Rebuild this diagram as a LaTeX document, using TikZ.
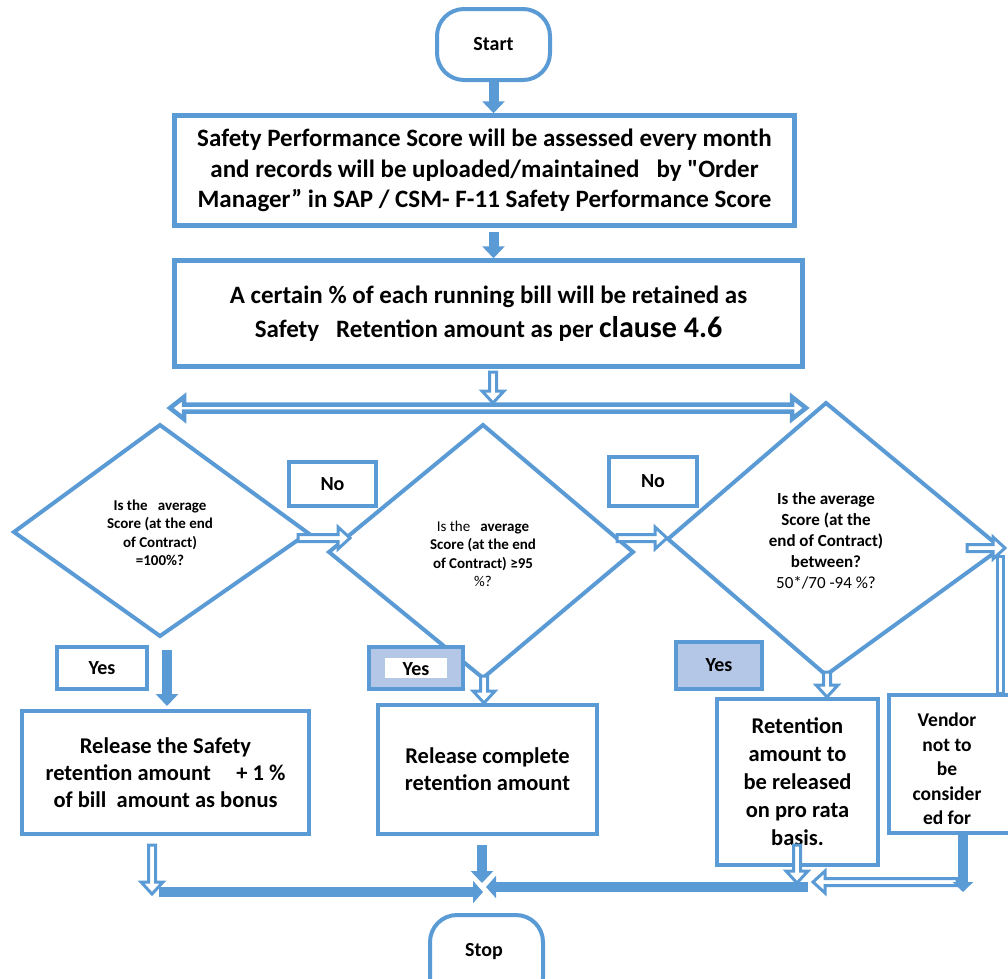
\documentclass[tikz,border=0pt]{standalone}
\usepackage{fontspec}
\setmainfont{Carlito}[Ligatures=TeXOff]
\usetikzlibrary{arrows.meta,calc}
\definecolor{bl}{RGB}{91,155,213}
\definecolor{lbl}{RGB}{180,199,231}
% hollow arrows: down (x, y start, y tip), right/left (y, x start, x tip)
\newcommand\hdown[3]{\filldraw[hollow] ({#1-3.5},#2) -- ({#1+3.5},#2) -- ({#1+3.5},{#3-12}) -- ({#1+11},{#3-12}) -- (#1,#3) -- ({#1-11},{#3-12}) -- ({#1-3.5},{#3-12}) -- cycle;}
\newcommand\hright[3]{\filldraw[hollow] (#2,{#1-3.5}) -- ({#3-12},{#1-3.5}) -- ({#3-12},{#1-11}) -- (#3,#1) -- ({#3-12},{#1+11}) -- ({#3-12},{#1+3.5}) -- (#2,{#1+3.5}) -- cycle;}
\newcommand\hleft[3]{\filldraw[hollow] (#2,{#1-3.5}) -- ({#3+12},{#1-3.5}) -- ({#3+12},{#1-11}) -- (#3,#1) -- ({#3+12},{#1+11}) -- ({#3+12},{#1+3.5}) -- (#2,{#1+3.5}) -- cycle;}
% name, x1, y1, x2, y2, font, text
\newcommand\boxat[7]{\node[box,minimum width={#4-#2},minimum height={#5-#3},font=#6] (#1) at ({(#2+#4)/2},{(#3+#5)/2}) {#7};}
\begin{document}
\begin{tikzpicture}[x=1pt,y=-1pt,
  box/.style={draw=bl,line width=4.5pt,fill=white,inner sep=0pt,align=center},
  tagbox/.style={draw=bl,line width=4pt,fill=white,inner sep=0pt,font=\fontsize{20}{22}\selectfont\bfseries},
  dia/.style={draw=bl,line width=4pt,fill=white,line join=miter},
  hollow/.style={draw=bl,fill=white,line width=3pt,line join=miter},
  solidarrow/.style={draw=bl,line width=10pt,-{Triangle[width=22pt,length=12pt]}},
  term/.style={draw=bl,line width=4pt,fill=white,rounded corners=27pt,inner sep=0pt,font=\fontsize{20}{22}\selectfont\bfseries}]
\useasboundingbox (0,0) rectangle (1008,978);

% terminals
\node[term,minimum width=113pt,minimum height=71pt] (start) at (493.5,44.5) {Start};
\node[term,minimum width=113pt,minimum height=90pt] (stop) at (486.5,960) {};
\node[font=\fontsize{20}{22}\selectfont\bfseries] (stoptxt) at (484,951) {Stop};

% main boxes
\boxat{b1}{174.5}{115.5}{794.5}{225.5}{\fontsize{25}{30.5}\selectfont\bfseries}{Safety Performance Score will be assessed every month\\ and records will be uploaded/maintained\ \ \ by "Order\\ Manager” in SAP / CSM- F-11 Safety Performance Score}
\boxat{b2}{174.5}{260.5}{802.5}{366.5}{\fontsize{25}{34}\selectfont\bfseries}{A certain \% of each running bill will be retained as\\ Safety\ \ \ Retention amount as per {\fontsize{30}{34}\selectfont clause 4.6}}

\draw[solidarrow] (start.south) -- (start.south |- b1.north);
\draw[solidarrow] ([yshift=-4pt]start.south |- b1.south) -- (start.south |- b2.north);

% split
\hdown{493}{372}{403}
\filldraw[draw=bl,fill=white,line width=4.5pt,line join=miter] (170,408) -- (184,397) -- (184,404.5) -- (792,404.5) -- (792,397) -- (806,408) -- (792,419) -- (792,411.5) -- (184,411.5) -- (184,419) -- cycle;

% diamonds
\filldraw[dia] (160,425) -- (308,533) -- (160,636) -- (14,532) -- cycle;
\filldraw[dia] (483,425) -- (633,552) -- (483,678) -- (329,552) -- cycle;
\filldraw[dia] (826,403) -- (1001,548) -- (826,675) -- (668,539) -- cycle;
\node[align=center,font=\fontsize{15}{18.5}\selectfont\bfseries] (q1) at (160,533) {Is the\ \ \ average\\ Score (at the end\\ of Contract)\\ =100\%?};
\node[align=center,font=\fontsize{15}{18.5}\selectfont] (q2) at (483,554) {Is the\ \ \ \textbf{average}\\ \textbf{Score (at the end}\\ \textbf{of Contract) ≥95}\\ \%?};
\node[align=center,font=\fontsize{17}{21}\selectfont] (q3) at (826,541) {\textbf{Is the average}\\ \textbf{Score (at the}\\ \textbf{end of Contract)}\\ \textbf{between?}\\ 50*/70 -94 \%?};

% No / Yes tags
\boxat{no1}{289}{462}{376}{506}{\fontsize{20}{22}\selectfont\bfseries}{No}
\boxat{no2}{609}{457}{697}{506}{\fontsize{20}{22}\selectfont\bfseries}{No}
\node[tagbox,minimum width=90pt,minimum height=42pt] (yes1) at (102,668) {Yes};
\node[tagbox,fill=lbl,minimum width=94pt,minimum height=42pt] (yes2) at (416,668) {};
\fill[white] (385,658) rectangle (447,678);
\node[font=\fontsize{20}{22}\selectfont\bfseries] (yes2t) at (416,669) {Yes};
\node[tagbox,fill=lbl,minimum width=86pt,minimum height=47pt] (yes3) at (719,665.5) {Yes};

% branch arrows
\hright{538}{298}{350}
\hright{538}{617}{667}
\hright{548}{967}{1005}
\hdown{484}{676}{703}
\hdown{827}{672}{697}
\draw[solidarrow] (167,650) -- (167,706);

% result boxes
\boxat{ra}{22}{711}{309}{834}{\fontsize{22.5}{27}\selectfont\bfseries}{Release the Safety\\ retention amount\ \ \ \ \ + 1 \%\\ of bill\ \ amount as bonus}
\boxat{rb}{378}{705}{597}{834}{\fontsize{22.5}{27}\selectfont\bfseries}{Release complete\\ retention amount}
\boxat{rc}{717}{699}{878}{865}{\fontsize{22.5}{28}\selectfont\bfseries}{Retention\\ amount to\\ be released\\ on pro rata\\ basis.}
\boxat{rd}{889}{695}{1020}{833}{\bfseries}{}
\begin{scope}
\clip (889,695) rectangle (1008,824);
\node[align=center,font=\fontsize{19.5}{24.5}\selectfont\bfseries] (rdt) at (947,769) {Vendor\\ not to\\ be\\ consider\\ ed for};
\end{scope}
\filldraw[hollow] (997,556) rectangle (1003,693);

% merge to stop
\hdown{152}{845}{894}
\draw[draw=bl,line width=10pt,-{Triangle[width=22pt,length=10pt]}] (159,892) -- (483,892);
\draw[solidarrow] (482,845) -- (482,883);
\draw[draw=bl,line width=10pt,-{Triangle[width=22pt,length=10pt]}] (808,887) -- (486,887);
\hdown{797}{845}{883}
\hleft{882}{957}{813}
\draw[draw=bl,line width=10pt,-{Triangle[width=20pt,length=10pt]}] (963,835) -- (963,892);
\end{tikzpicture}
\end{document}
